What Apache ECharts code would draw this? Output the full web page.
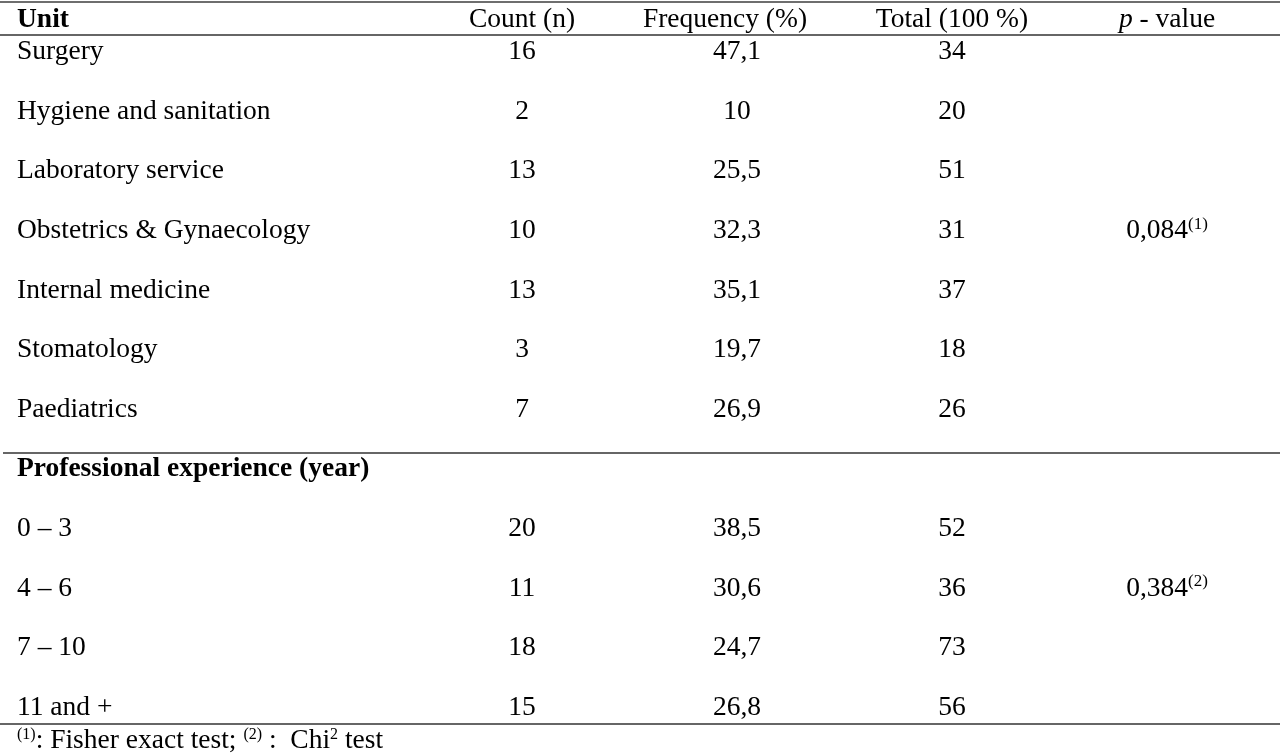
<!DOCTYPE html>
<html>
<head>
    <meta charset="utf-8">
    <title>Unit / experience table</title>
    <script src="https://cdn.jsdelivr.net/npm/echarts@6/dist/echarts.min.js"></script>
    <style>
        html, body { margin: 0; padding: 0; background: #fff; }
        #main { width: 1280px; height: 756px; }
    </style>
</head>
<body>
<div id="main"></div>
<script>
    // 列标题
    var columns = ['Count (n)', 'Frequency (%)', 'Total (100 %)', 'p - value'];
    // 单位分组
    var units = ['Surgery', 'Hygiene and sanitation', 'Laboratory service', 'Obstetrics & Gynaecology',
        'Internal medicine', 'Stomatology', 'Paediatrics'];
    var unitCounts = [16, 2, 13, 10, 13, 3, 7];
    var unitFreq = [47.1, 10, 25.5, 32.3, 35.1, 19.7, 26.9];
    var unitTotal = [34, 20, 51, 31, 37, 18, 26];
    var unitP = 0.084;
    var unitPRow = 'Obstetrics & Gynaecology';
    // 工作年限分组
    var section = 'Professional experience (year)';
    var experience = ['0 – 3', '4 – 6', '7 – 10', '11 and +'];
    var expCounts = [20, 11, 18, 15];
    var expFreq = [38.5, 30.6, 24.7, 26.8];
    var expTotal = [52, 36, 73, 56];
    var expP = 0.384;
    var expPRow = '4 – 6';

    var FONT = '"Liberation Serif", "Times New Roman", serif';
    var SIZE = 27.5;

    var rows = units.concat([section]).concat(experience);

    function fmt(v) {
        return String(v).replace('.', ',');
    }

    function cells(col, names, values) {
        return names.map(function (n, i) {
            return [col, n, values[i]];
        });
    }

    function cellSeries(data, isP) {
        return {
            type: 'scatter',
            data: data,
            symbolSize: 0,
            itemStyle: {color: '#000'},
            silent: true,
            emphasis: {disabled: true},
            label: {
                show: true,
                position: 'inside',
                fontFamily: FONT,
                fontSize: SIZE,
                color: '#000',
                opacity: 1,
                textBorderWidth: 0,
                formatter: function (p) {
                    var v = fmt(p.value[2]);
                    if (isP) {
                        return '{v|' + v + '}{s|' + p.value[3] + '}';
                    }
                    return v;
                },
                rich: {
                    v: {fontFamily: FONT, fontSize: SIZE, color: '#000', lineHeight: 30},
                    s: {fontFamily: FONT, fontSize: 17, color: '#000', verticalAlign: 'top', lineHeight: 30}
                }
            }
        };
    }

    var myChart = echarts.init(document.getElementById('main'));

    var option = {
        backgroundColor: '#fff',
        animation: false,
        title: [
            {
                text: 'Unit',
                left: 17,
                top: 6,
                padding: 0,
                textStyle: {fontFamily: FONT, fontSize: SIZE, fontWeight: 'bold', color: '#000'}
            },
            {
                text: '{s|(1)}: Fisher exact test; {s|(2)} :  Chi{s|2} test',
                left: 17,
                top: 727,
                padding: 0,
                textStyle: {
                    fontFamily: FONT, fontSize: SIZE, fontWeight: 'normal', color: '#000',
                    rich: {
                        s: {fontFamily: FONT, fontSize: 16, color: '#000', verticalAlign: 'top', lineHeight: 28}
                    }
                }
            }
        ],
        grid: {left: 414.5, right: 5.5, top: 52, bottom: 48.4},
        xAxis: {
            type: 'category',
            position: 'top',
            data: columns,
            boundaryGap: true,
            axisLine: {show: false},
            axisTick: {show: false},
            splitLine: {show: false},
            axisLabel: {
                interval: 0,
                margin: 18,
                fontFamily: FONT,
                fontSize: SIZE,
                color: '#000',
                formatter: function (v) {
                    if (v === 'p - value') return '{i|p}{n| - value}';
                    if (v === 'Frequency (%)') return '{f|' + v + '}';
                    return v;
                },
                rich: {
                    i: {fontFamily: FONT, fontSize: SIZE, fontStyle: 'italic', color: '#000'},
                    n: {fontFamily: FONT, fontSize: SIZE, color: '#000'},
                    f: {fontFamily: FONT, fontSize: SIZE, color: '#000', padding: [0, 24, 0, 0]}
                }
            }
        },
        yAxis: {
            type: 'category',
            data: rows,
            inverse: true,
            boundaryGap: false,
            axisLine: {show: false},
            axisTick: {show: false},
            splitLine: {show: false},
            axisLabel: {
                interval: 0,
                align: 'left',
                margin: 397.5,
                fontFamily: FONT,
                fontSize: SIZE,
                color: '#000',
                formatter: function (v) {
                    return v === section ? '{b|' + v + '}' : v;
                },
                rich: {
                    b: {fontFamily: FONT, fontSize: SIZE, fontWeight: 'bold', color: '#000'}
                }
            }
        },
        graphic: [
            {type: 'line', shape: {x1: 0, y1: 2, x2: 1280, y2: 2}, style: {stroke: '#6e6e6e', lineWidth: 2}, silent: true},
            {type: 'line', shape: {x1: 0, y1: 35, x2: 1280, y2: 35}, style: {stroke: '#333', lineWidth: 1.5}, silent: true},
            {type: 'line', shape: {x1: 3, y1: 453, x2: 1280, y2: 453}, style: {stroke: '#333', lineWidth: 1.5}, silent: true},
            {type: 'line', shape: {x1: 0, y1: 724, x2: 1280, y2: 724}, style: {stroke: '#333', lineWidth: 1.5}, silent: true}
        ],
        series: [
            cellSeries(cells(columns[0], units, unitCounts).concat(cells(columns[0], experience, expCounts))),
            cellSeries(cells(columns[1], units, unitFreq).concat(cells(columns[1], experience, expFreq))),
            cellSeries(cells(columns[2], units, unitTotal).concat(cells(columns[2], experience, expTotal))),
            cellSeries([[columns[3], unitPRow, unitP, '(1)'], [columns[3], expPRow, expP, '(2)']], true)
        ]
    };
    myChart.setOption(option);
</script>
</body>
</html>
